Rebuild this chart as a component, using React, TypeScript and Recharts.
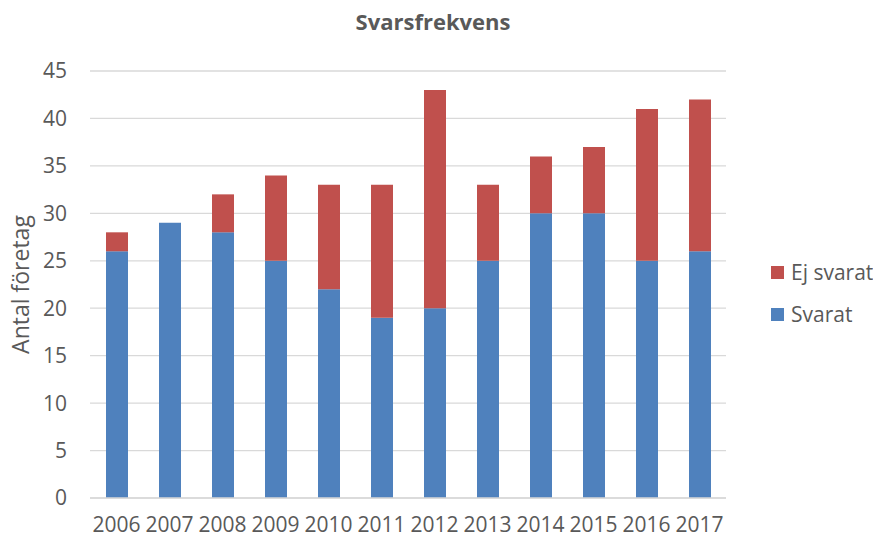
import { BarChart, Bar, XAxis, YAxis, CartesianGrid } from "recharts"

const years = ["2006", "2007", "2008", "2009", "2010", "2011", "2012", "2013", "2014", "2015", "2016", "2017"]
const svarat = [26, 29, 28, 25, 22, 19, 20, 25, 30, 30, 25, 26]
const ejSvarat = [2, 0, 4, 9, 11, 14, 23, 8, 6, 7, 16, 16]
const yTicks = [0, 5, 10, 15, 20, 25, 30, 35, 40, 45]

const BLUE = "#4F81BD"
const RED = "#C0504D"
const TEXT = "#595959"
const FONT = "'Open Sans', sans-serif"

const data = years.map((year, i) => ({
  year,
  svarat: svarat[i],
  ejSvarat: ejSvarat[i],
}))

// legend order as in the original: top stack first
const legendItems = [
  { label: "Ej svarat", color: RED },
  { label: "Svarat", color: BLUE },
]

export default function App() {
  return (
    <div style={{ position: "absolute", left: 0, top: 0, width: 873, height: 539, background: "#fff" }}>
      <div
        style={{
          position: "absolute",
          top: 6,
          left: 0,
          width: 866,
          textAlign: "center",
          fontFamily: FONT,
          fontWeight: 700,
          fontSize: 22,
          color: TEXT,
        }}
      >
        Svarsfrekvens
      </div>
      <div
        style={{
          position: "absolute",
          left: 771,
          top: 251,
          fontFamily: FONT,
          fontSize: 21,
          color: TEXT,
          whiteSpace: "nowrap",
        }}
      >
        {legendItems.map((item) => (
          <div key={item.label} style={{ display: "flex", alignItems: "center", height: 42 }}>
            <span style={{ width: 13, height: 13, background: item.color, marginRight: 7, display: "inline-block" }} />
            <span>{item.label}</span>
          </div>
        ))}
      </div>
      <BarChart width={873} height={539} data={data} margin={{ top: 71, right: 147, left: 20, bottom: 0 }}>
        <CartesianGrid vertical={false} stroke="#D9D9D9" strokeWidth={1.3} />
        <XAxis
          dataKey="year"
          axisLine={{ stroke: "#D9D9D9", strokeWidth: 1.3 }}
          tickLine={false}
          tickSize={0}
          tickMargin={19}
          height={41}
          interval={0}
          tick={{ fill: TEXT, fontSize: 21, fontFamily: FONT }}
        />
        <YAxis
          domain={[0, 45]}
          ticks={yTicks}
          width={70}
          axisLine={false}
          tickLine={false}
          tickSize={0}
          tickMargin={23}
          tick={{ fill: TEXT, fontSize: 21, fontFamily: FONT }}
          label={{
            value: "Antal företag",
            angle: -90,
            position: "insideLeft",
            dx: -4,
            style: { fill: TEXT, fontSize: 23, fontFamily: FONT, textAnchor: "middle" },
          }}
        />
        <Bar dataKey="svarat" name="Svarat" stackId="a" fill={BLUE} barSize={22} isAnimationActive={false} />
        <Bar dataKey="ejSvarat" name="Ej svarat" stackId="a" fill={RED} barSize={22} isAnimationActive={false} />
      </BarChart>
    </div>
  )
}
